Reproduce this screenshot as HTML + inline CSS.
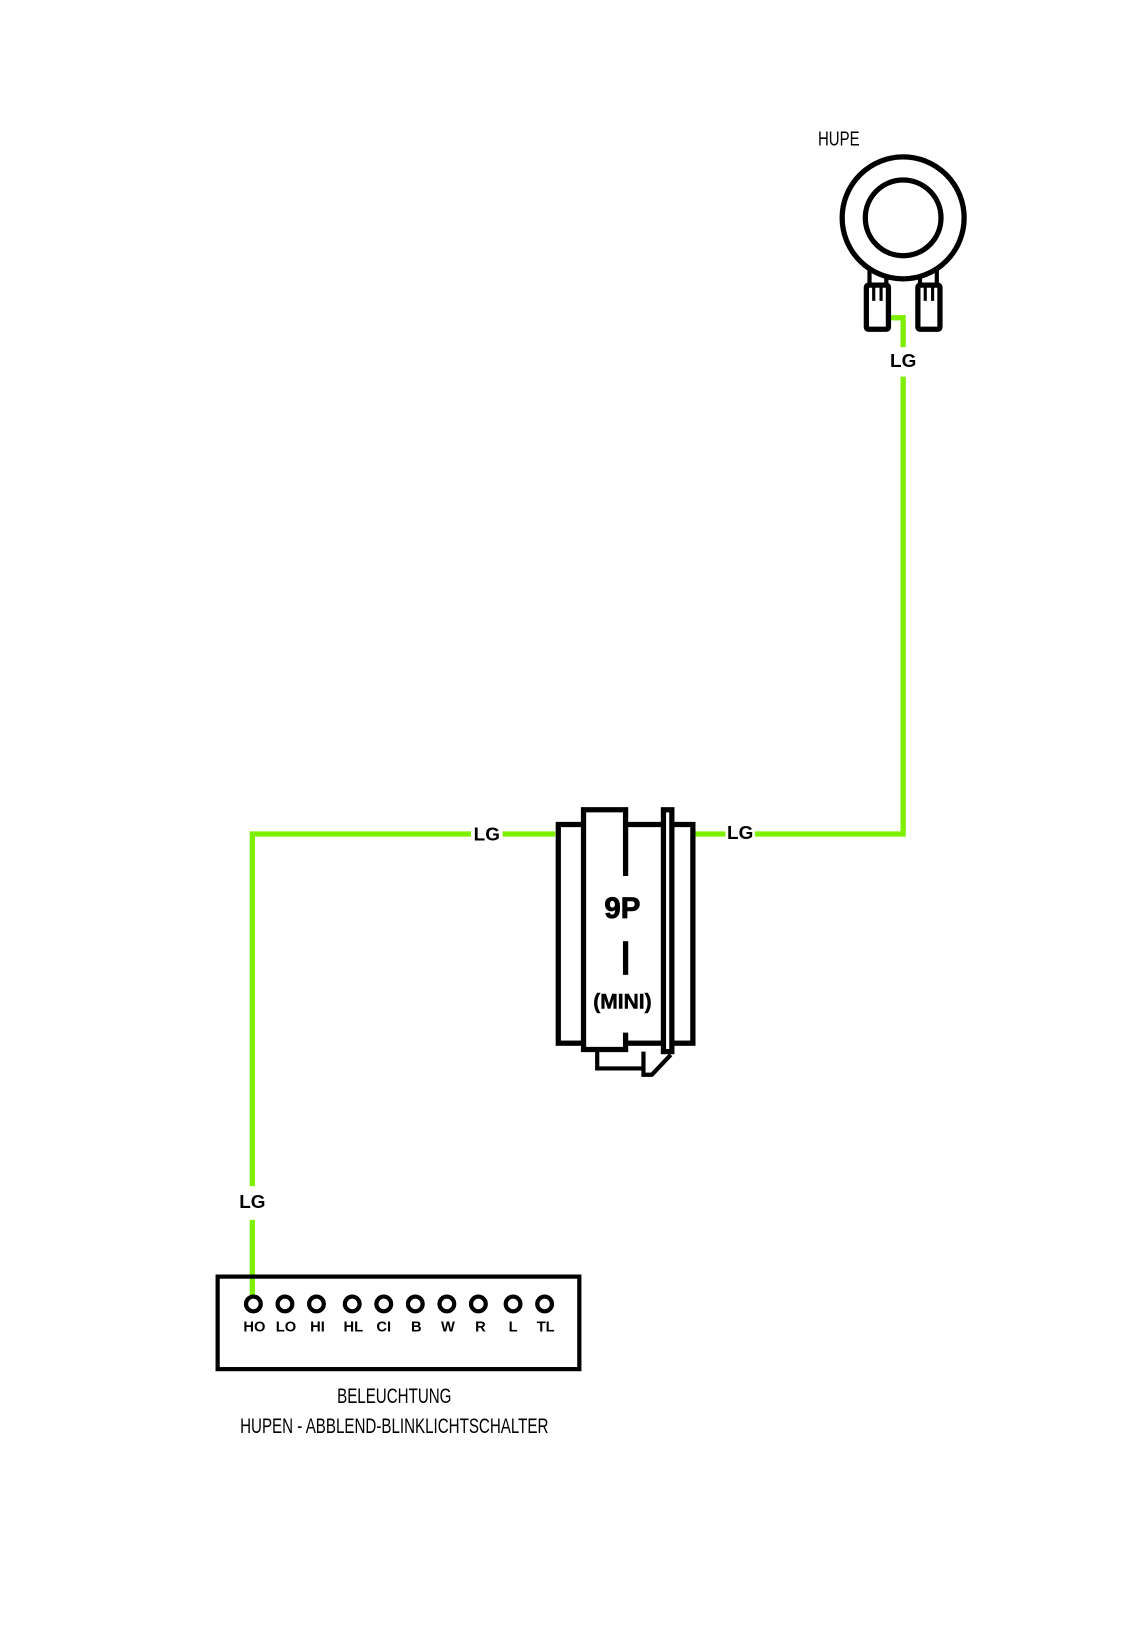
<!DOCTYPE html>
<html><head><meta charset="utf-8"><style>
html,body{margin:0;padding:0;background:#fff;}
svg{display:block}
</style></head><body>
<svg width="1125" height="1649" viewBox="0 0 1070 1568" xmlns="http://www.w3.org/2000/svg" font-family="Liberation Sans, sans-serif">
<rect width="1080" height="1583" fill="#fff"/>
<g fill="none" stroke="#7cf000" stroke-width="5">
<polyline points="845,302 859,302 859,330"/>
<polyline points="859,358 859,793 718,793"/>
<line x1="690" y1="793" x2="660" y2="793"/>
<line x1="528" y1="793" x2="478" y2="793"/>
<polyline points="448,793 240,793 240,1128"/>
<line x1="240" y1="1160" x2="240" y2="1232"/>
</g>
<g font-weight="bold" font-size="18" text-anchor="middle" fill="#000">
<text x="859" y="349">LG</text>
<text x="704" y="798">LG</text>
<text x="463" y="799">LG</text>
<text x="240" y="1149">LG</text>
</g>
<text x="778" y="138" font-size="19" transform="translate(778 0) scale(0.75 1) translate(-778 0)" fill="#000">HUPE</text>
<g fill="none" stroke="#000" stroke-width="5">
<path d="M827,250 L827,270 M843,255 L843,270 M891,250 L891,270 M875,255 L875,270" stroke-width="4"/>
<circle cx="859" cy="207" r="58" fill="#fff"/>
<circle cx="859" cy="207" r="36"/>
<rect x="824" y="271" width="21" height="42" rx="2" fill="#fff"/>
<rect x="873" y="271" width="21" height="42" rx="2" fill="#fff"/>
<path d="M831,271 v15 M838,271 v15 M880,271 v15 M887,271 v15" stroke-width="3"/>
</g>
<g fill="#fff" stroke="#000" stroke-width="5">
<path d="M568,998 v18 h45 M612,1000 v22 h8 L638,1003" fill="none" stroke-width="4"/>
<rect x="531" y="784" width="128" height="208"/>
<rect x="631" y="770" width="8" height="230"/>
</g>
<g stroke="#000" stroke-width="5" fill="none">
<path d="M595,833 V770 H555 V998 H595 V982" fill="#fff"/>
<line x1="595" y1="895" x2="595" y2="927"/>
</g>
<text x="592" y="873" font-size="28" font-weight="bold" text-anchor="middle" stroke="#000" stroke-width="0.8">9P</text>
<text x="592" y="959" font-size="20" font-weight="bold" text-anchor="middle" stroke="#000" stroke-width="0.5">(MINI)</text>
<rect x="207" y="1214" width="344" height="88" fill="none" stroke="#000" stroke-width="4"/>
<g fill="#fff" stroke="#000" stroke-width="4">
<circle cx="241" cy="1240" r="7"/><circle cx="271" cy="1240" r="7"/><circle cx="301" cy="1240" r="7"/>
<circle cx="335" cy="1240" r="7"/><circle cx="365" cy="1240" r="7"/><circle cx="395" cy="1240" r="7"/>
<circle cx="425" cy="1240" r="7"/><circle cx="455" cy="1240" r="7"/><circle cx="488" cy="1240" r="7"/>
<circle cx="518" cy="1240" r="7"/>
</g>
<g font-size="14" font-weight="bold" text-anchor="middle">
<text x="242" y="1266">HO</text><text x="272" y="1266">LO</text><text x="302" y="1266">HI</text>
<text x="336" y="1266">HL</text><text x="365" y="1266">CI</text><text x="396" y="1266">B</text>
<text x="426" y="1266">W</text><text x="457" y="1266">R</text><text x="488" y="1266">L</text>
<text x="519" y="1266">TL</text>
</g>
<g font-size="20" text-anchor="middle" transform="translate(375 0) scale(0.72 1) translate(-375 0)">
<text x="375" y="1334">BELEUCHTUNG</text>
<text x="375" y="1363">HUPEN - ABBLEND-BLINKLICHTSCHALTER</text>
</g>
</svg>
</body></html>
